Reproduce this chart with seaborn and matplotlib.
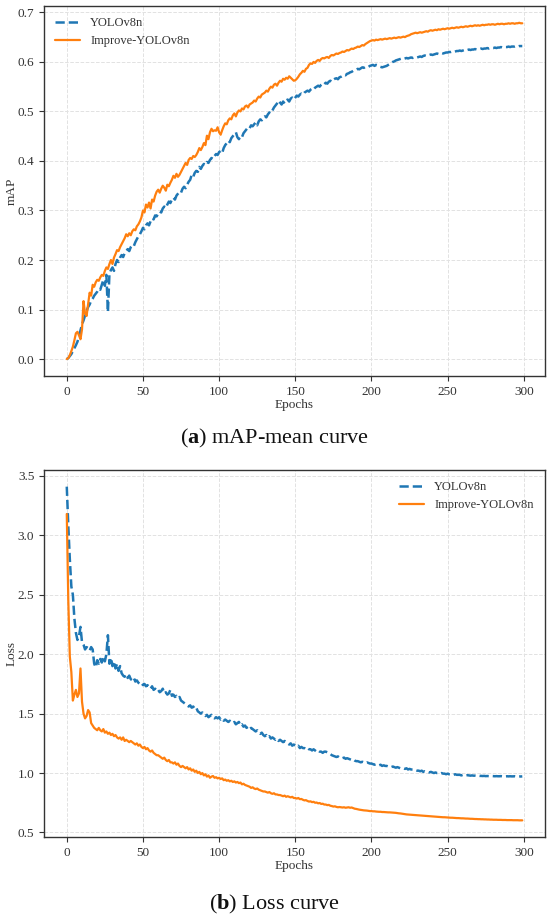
import numpy as np
import pandas as pd
import seaborn as sns
import matplotlib.pyplot as plt

# epochs 0..299
epochs = np.arange(300)

# mAP, YOLOv8n (baseline)
map_base = [
    0.000, 0.002, 0.006, 0.010, 0.016, 0.022, 0.028, 0.035, 0.045, 0.058,
    0.070, 0.078, 0.088, 0.097, 0.105, 0.110, 0.118, 0.122, 0.128, 0.132,
    0.136, 0.142, 0.140, 0.150, 0.160, 0.148, 0.170, 0.095, 0.172, 0.180,
    0.185, 0.178, 0.192, 0.200, 0.196, 0.205, 0.210, 0.206, 0.214, 0.218,
    0.222, 0.218, 0.226, 0.230, 0.228, 0.236, 0.242, 0.248, 0.252, 0.258,
    0.265, 0.262, 0.270, 0.274, 0.270, 0.278, 0.284, 0.282, 0.290, 0.288,
    0.294, 0.298, 0.296, 0.304, 0.308, 0.305, 0.312, 0.318, 0.315, 0.322,
    0.326, 0.322, 0.330, 0.334, 0.338, 0.336, 0.344, 0.348, 0.345, 0.352,
    0.358, 0.362, 0.372, 0.368, 0.376, 0.380, 0.378, 0.388, 0.384, 0.390,
    0.394, 0.392, 0.398, 0.396, 0.402, 0.406, 0.404, 0.410, 0.414, 0.412,
    0.418, 0.420, 0.416, 0.426, 0.432, 0.436, 0.441, 0.438, 0.446, 0.450,
    0.454, 0.458, 0.448, 0.444, 0.450, 0.448, 0.456, 0.460, 0.464, 0.468,
    0.466, 0.472, 0.470, 0.474, 0.478, 0.472, 0.480, 0.484, 0.482, 0.488,
    0.490, 0.488, 0.494, 0.498, 0.496, 0.502, 0.508, 0.512, 0.516, 0.522,
    0.518, 0.514, 0.520, 0.516, 0.522, 0.524, 0.520, 0.526, 0.528, 0.524,
    0.528, 0.532, 0.530, 0.534, 0.536, 0.534, 0.538, 0.540, 0.542, 0.540,
    0.544, 0.546, 0.544, 0.548, 0.550, 0.552, 0.550, 0.554, 0.557, 0.555,
    0.558, 0.556, 0.560, 0.562, 0.560, 0.564, 0.566, 0.567, 0.565, 0.569,
    0.570, 0.572, 0.574, 0.573, 0.576, 0.577, 0.579, 0.580, 0.582, 0.583,
    0.584, 0.586, 0.585, 0.587, 0.589, 0.588, 0.590, 0.591, 0.590, 0.592,
    0.593, 0.594, 0.592, 0.594, 0.593, 0.591, 0.590, 0.589, 0.590, 0.591,
    0.592, 0.594, 0.596, 0.598, 0.600, 0.601, 0.603, 0.604, 0.605, 0.606,
    0.607, 0.606, 0.607, 0.608, 0.607, 0.608, 0.609, 0.608, 0.609, 0.610,
    0.609, 0.610, 0.611, 0.610, 0.612, 0.613, 0.612, 0.613, 0.614, 0.615,
    0.614, 0.615, 0.616, 0.617, 0.616, 0.617, 0.618, 0.617, 0.618, 0.619,
    0.619, 0.620, 0.620, 0.621, 0.620, 0.621, 0.622, 0.622, 0.623, 0.622,
    0.623, 0.624, 0.623, 0.624, 0.625, 0.624, 0.625, 0.625, 0.626, 0.625,
    0.626, 0.626, 0.627, 0.626, 0.627, 0.627, 0.628, 0.627, 0.628, 0.628,
    0.628, 0.629, 0.628, 0.629, 0.629, 0.630, 0.629, 0.630, 0.630, 0.630,
    0.631, 0.630, 0.631, 0.631, 0.631, 0.632, 0.631, 0.632, 0.632, 0.632,
]

# mAP, Improve-YOLOv8n
map_impr = [
    0.000, 0.002, 0.008, 0.016, 0.025, 0.038, 0.052, 0.055, 0.048, 0.040,
    0.060, 0.117, 0.092, 0.087, 0.110, 0.134, 0.128, 0.150, 0.146, 0.155,
    0.160, 0.158, 0.165, 0.170, 0.168, 0.178, 0.185, 0.182, 0.192, 0.200,
    0.192, 0.205, 0.212, 0.220, 0.218, 0.226, 0.232, 0.238, 0.244, 0.252,
    0.248, 0.254, 0.250, 0.258, 0.262, 0.260, 0.268, 0.272, 0.278, 0.286,
    0.300, 0.296, 0.312, 0.306, 0.316, 0.304, 0.322, 0.318, 0.330, 0.338,
    0.342, 0.336, 0.344, 0.350, 0.346, 0.340, 0.352, 0.349, 0.356, 0.362,
    0.370, 0.366, 0.374, 0.368, 0.372, 0.378, 0.384, 0.390, 0.396, 0.392,
    0.402, 0.406, 0.404, 0.410, 0.408, 0.412, 0.418, 0.426, 0.422, 0.428,
    0.436, 0.432, 0.451, 0.444, 0.458, 0.465, 0.460, 0.462, 0.461, 0.468,
    0.458, 0.453, 0.462, 0.470, 0.476, 0.474, 0.482, 0.486, 0.484, 0.492,
    0.496, 0.490, 0.498, 0.502, 0.500, 0.506, 0.504, 0.510, 0.512, 0.508,
    0.514, 0.516, 0.518, 0.522, 0.520, 0.526, 0.530, 0.528, 0.534, 0.536,
    0.538, 0.542, 0.540, 0.546, 0.550, 0.548, 0.554, 0.556, 0.552, 0.558,
    0.562, 0.560, 0.566, 0.564, 0.568, 0.566, 0.571, 0.568, 0.565, 0.562,
    0.563, 0.566, 0.570, 0.575, 0.578, 0.582, 0.580, 0.586, 0.588, 0.594,
    0.597, 0.596, 0.600, 0.598, 0.602, 0.604, 0.602, 0.606, 0.608, 0.607,
    0.609, 0.610, 0.608, 0.612, 0.614, 0.613, 0.615, 0.617, 0.616, 0.618,
    0.619, 0.621, 0.620, 0.622, 0.624, 0.623, 0.625, 0.627, 0.626, 0.628,
    0.629, 0.631, 0.630, 0.632, 0.634, 0.633, 0.636, 0.638, 0.640, 0.642,
    0.643, 0.644, 0.643, 0.645, 0.644, 0.645, 0.646, 0.645, 0.646, 0.647,
    0.646, 0.647, 0.648, 0.647, 0.648, 0.649, 0.648, 0.649, 0.650, 0.649,
    0.650, 0.651, 0.650, 0.652, 0.653, 0.654, 0.656, 0.657, 0.658, 0.659,
    0.658, 0.659, 0.660, 0.659, 0.660, 0.661, 0.662, 0.661, 0.663, 0.664,
    0.663, 0.664, 0.665, 0.664, 0.666, 0.665, 0.666, 0.667, 0.666, 0.667,
    0.668, 0.667, 0.668, 0.669, 0.668, 0.669, 0.670, 0.669, 0.670, 0.671,
    0.670, 0.671, 0.672, 0.671, 0.672, 0.673, 0.672, 0.673, 0.674, 0.673,
    0.674, 0.673, 0.674, 0.675, 0.674, 0.675, 0.675, 0.676, 0.675, 0.676,
    0.676, 0.675, 0.676, 0.677, 0.676, 0.677, 0.677, 0.676, 0.677, 0.677,
    0.678, 0.677, 0.678, 0.678, 0.677, 0.678, 0.678, 0.679, 0.678, 0.678,
]

# loss, YOLOv8n (baseline)
loss_base = [
    3.41, 3.08, 2.80, 2.57, 2.50, 2.30, 2.18, 2.12, 2.15, 2.23,
    2.10, 2.08, 2.04, 2.06, 2.05, 2.03, 2.06, 2.04, 1.92, 1.89,
    1.95, 1.92, 1.96, 1.93, 1.98, 1.94, 2.00, 2.16, 1.92, 1.97,
    1.90, 1.94, 1.88, 1.92, 1.86, 1.90, 1.84, 1.82, 1.81, 1.83,
    1.80, 1.82, 1.79, 1.78, 1.80, 1.77, 1.78, 1.76, 1.75, 1.76,
    1.74, 1.75, 1.73, 1.74, 1.72, 1.71, 1.73, 1.70, 1.71, 1.69,
    1.70, 1.68, 1.69, 1.71, 1.67, 1.68, 1.66, 1.67, 1.70, 1.65,
    1.66, 1.64, 1.65, 1.63, 1.64, 1.61, 1.60, 1.59, 1.58, 1.57,
    1.56, 1.57, 1.55, 1.56, 1.54, 1.55, 1.52, 1.51, 1.50, 1.51,
    1.49, 1.48, 1.49, 1.47, 1.48, 1.49, 1.47, 1.46, 1.47, 1.46,
    1.47, 1.45, 1.46, 1.44, 1.45, 1.44, 1.43, 1.44, 1.43, 1.42,
    1.43, 1.41, 1.42, 1.43, 1.40, 1.41, 1.39, 1.40, 1.38, 1.39,
    1.37, 1.38, 1.37, 1.36, 1.35, 1.36, 1.34, 1.33, 1.34, 1.32,
    1.31, 1.32, 1.30, 1.31, 1.29, 1.30, 1.29, 1.28, 1.29, 1.27,
    1.28, 1.27, 1.26, 1.27, 1.26, 1.25, 1.24, 1.25, 1.23, 1.24,
    1.23, 1.22, 1.23, 1.21, 1.22, 1.21, 1.21, 1.20, 1.21, 1.20,
    1.20, 1.19, 1.20, 1.19, 1.18, 1.19, 1.18, 1.18, 1.17, 1.18,
    1.18, 1.175, 1.17, 1.16, 1.15, 1.145, 1.14, 1.135, 1.14, 1.13,
    1.13, 1.125, 1.13, 1.12, 1.125, 1.12, 1.115, 1.11, 1.115, 1.105,
    1.10, 1.10, 1.095, 1.09, 1.095, 1.09, 1.085, 1.09, 1.085, 1.08,
    1.08, 1.075, 1.07, 1.075, 1.07, 1.065, 1.07, 1.06, 1.065, 1.06,
    1.06, 1.055, 1.055, 1.05, 1.055, 1.05, 1.045, 1.05, 1.045, 1.04,
    1.04, 1.04, 1.035, 1.04, 1.03, 1.035, 1.03, 1.03, 1.025, 1.025,
    1.02, 1.02, 1.015, 1.02, 1.01, 1.015, 1.01, 1.01, 1.005, 1.01,
    1.005, 1.00, 1.005, 1.00, 1.00, 0.995, 1.00, 0.995, 0.995, 0.99,
    0.995, 0.99, 0.99, 0.99, 0.985, 0.99, 0.985, 0.985, 0.985, 0.98,
    0.985, 0.98, 0.98, 0.982, 0.98, 0.978, 0.98, 0.978, 0.978, 0.976,
    0.978, 0.976, 0.976, 0.975, 0.976, 0.974, 0.975, 0.974, 0.974, 0.975,
    0.974, 0.973, 0.974, 0.973, 0.973, 0.974, 0.972, 0.973, 0.972, 0.973,
    0.972, 0.973, 0.972, 0.972, 0.973, 0.971, 0.972, 0.972, 0.971, 0.972,
]

# loss, Improve-YOLOv8n
loss_impr = [
    3.18, 2.45, 1.98, 1.85, 1.61, 1.66, 1.70, 1.64, 1.67, 1.88,
    1.60, 1.50, 1.46, 1.48, 1.53, 1.51, 1.42, 1.40, 1.38, 1.37,
    1.36, 1.38, 1.36, 1.35, 1.37, 1.34, 1.35, 1.33, 1.34, 1.32,
    1.33, 1.31, 1.32, 1.30, 1.29, 1.30, 1.28, 1.30, 1.27, 1.28,
    1.27, 1.26, 1.27, 1.26, 1.25, 1.24, 1.25, 1.23, 1.24, 1.22,
    1.21, 1.22, 1.20, 1.21, 1.19, 1.18, 1.19, 1.17, 1.16, 1.15,
    1.15, 1.14, 1.13, 1.12, 1.13, 1.11, 1.10, 1.11, 1.09, 1.09,
    1.08, 1.09, 1.07, 1.08, 1.06, 1.05, 1.06, 1.05, 1.04, 1.05,
    1.03, 1.04, 1.02, 1.03, 1.01, 1.02, 1.00, 1.01, 0.99, 1.00,
    0.98, 0.99, 0.97, 0.98, 0.96, 0.97, 0.975, 0.96, 0.965, 0.955,
    0.96, 0.95, 0.955, 0.94, 0.945, 0.935, 0.94, 0.93, 0.935, 0.925,
    0.93, 0.92, 0.925, 0.915, 0.92, 0.905, 0.91, 0.90, 0.895, 0.89,
    0.885, 0.875, 0.88, 0.87, 0.865, 0.87, 0.86, 0.855, 0.85, 0.845,
    0.845, 0.84, 0.835, 0.84, 0.83, 0.825, 0.83, 0.82, 0.82, 0.815,
    0.815, 0.81, 0.805, 0.81, 0.80, 0.805, 0.80, 0.795, 0.80, 0.79,
    0.79, 0.785, 0.79, 0.78, 0.782, 0.775, 0.77, 0.772, 0.765, 0.76,
    0.762, 0.755, 0.758, 0.75, 0.752, 0.745, 0.748, 0.74, 0.742, 0.735,
    0.735, 0.73, 0.732, 0.725, 0.722, 0.718, 0.72, 0.715, 0.712, 0.714,
    0.712, 0.71, 0.712, 0.708, 0.71, 0.712, 0.708, 0.71, 0.705, 0.70,
    0.698, 0.695, 0.692, 0.69, 0.688, 0.686, 0.685, 0.684, 0.682, 0.68,
    0.68, 0.678, 0.678, 0.676, 0.675, 0.674, 0.674, 0.672, 0.672, 0.671,
    0.67, 0.669, 0.669, 0.668, 0.667, 0.666, 0.665, 0.663, 0.661, 0.66,
    0.658, 0.656, 0.654, 0.652, 0.651, 0.65, 0.649, 0.648, 0.647, 0.646,
    0.645, 0.644, 0.643, 0.642, 0.641, 0.64, 0.639, 0.638, 0.637, 0.636,
    0.635, 0.634, 0.633, 0.632, 0.631, 0.63, 0.629, 0.628, 0.628, 0.627,
    0.626, 0.625, 0.624, 0.624, 0.623, 0.622, 0.621, 0.621, 0.62, 0.619,
    0.619, 0.618, 0.617, 0.617, 0.616, 0.615, 0.615, 0.614, 0.613, 0.613,
    0.612, 0.612, 0.611, 0.611, 0.61, 0.61, 0.609, 0.609, 0.608, 0.608,
    0.607, 0.607, 0.607, 0.606, 0.606, 0.606, 0.605, 0.605, 0.605, 0.604,
    0.604, 0.604, 0.604, 0.603, 0.603, 0.603, 0.603, 0.602, 0.602, 0.602,
]

series_names = ["YOLOv8n", "Improve-YOLOv8n"]
captions = [("a", "mAP-mean curve"), ("b", "Loss curve")]

sns.set_style("ticks")
plt.rcParams["font.family"] = ["Liberation Serif", "DejaVu Serif"]
plt.rcParams["mathtext.fontset"] = "custom"
plt.rcParams["mathtext.rm"] = "Liberation Serif"
plt.rcParams["mathtext.bf"] = "Liberation Serif:bold"

blue = "#1f77b4"
orange = "#ff7f0e"

fig = plt.figure(figsize=(5.5, 9.19), dpi=100)
ax1 = fig.add_axes([0.080, 0.591, 0.911, 0.4025])
ax2 = fig.add_axes([0.080, 0.0892, 0.911, 0.3994])


def draw(ax, base, impr, ylabel, legend_loc):
    df = pd.DataFrame({"Epochs": epochs, series_names[0]: base, series_names[1]: impr})
    sns.lineplot(data=df, x="Epochs", y=series_names[0], ax=ax, color=blue,
                 linestyle="--", linewidth=1.8, label=series_names[0])
    sns.lineplot(data=df, x="Epochs", y=series_names[1], ax=ax, color=orange,
                 linestyle="-", linewidth=1.6, label=series_names[1])
    ax.set_xticks([0, 50, 100, 150, 200, 250, 300])
    ax.grid(True, linestyle="--", linewidth=0.7, color="#e2e2e2")
    ax.set_xlabel("Epochs", fontsize=9.5, color="#333333", labelpad=1)
    ax.set_ylabel(ylabel, fontsize=9.5, color="#333333")
    ax.yaxis.set_label_coords(-0.052, 0.5)
    ax.tick_params(labelsize=9.5, colors="#333333", length=3.5, width=0.8)
    for s in ax.spines.values():
        s.set_color("#333333")
        s.set_linewidth(1.0)
    ax.legend(loc=legend_loc, frameon=False, fontsize=9, handlelength=2.0,
              labelcolor="#333333")


draw(ax1, map_base, map_impr, "mAP", "upper left")
ax1.set_yticks([0.0, 0.1, 0.2, 0.3, 0.4, 0.5, 0.6, 0.7])
ax1.yaxis.set_major_formatter(plt.FormatStrFormatter("%.1f"))

draw(ax2, loss_base, loss_impr, "Loss", "upper right")
ax2.set_yticks([0.5, 1.0, 1.5, 2.0, 2.5, 3.0, 3.5])
ax2.yaxis.set_major_formatter(plt.FormatStrFormatter("%.1f"))

for (letter, text), ypos in zip(captions, [0.523, 0.016]):
    fig.text(0.5, ypos, r"($\mathbf{" + letter + r"}$) " + text,
             ha="center", va="center", fontsize=16, color="#111111")

fig.savefig("out.png", dpi=100)
